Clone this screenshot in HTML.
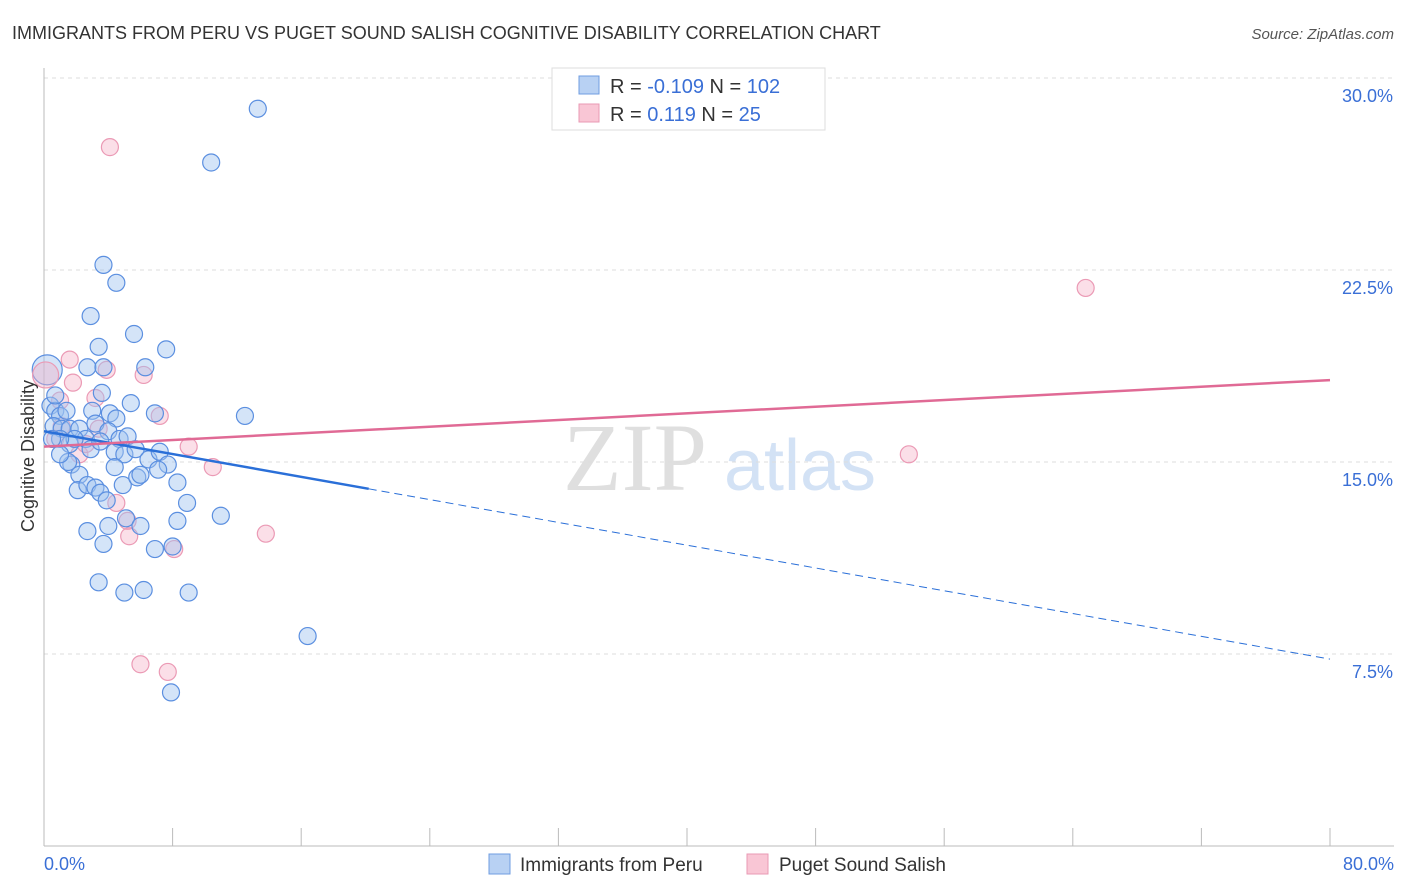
<!DOCTYPE html>
<html><head><meta charset="utf-8"><style>
body{margin:0;background:#fff;font-family:"Liberation Sans",sans-serif}
svg{display:block}
</style></head><body>
<svg id="chart" width="1406" height="892" xmlns="http://www.w3.org/2000/svg" font-family="Liberation Sans, sans-serif">
<text x="12" y="39" font-size="18" fill="#333">IMMIGRANTS FROM PERU VS PUGET SOUND SALISH COGNITIVE DISABILITY CORRELATION CHART</text>
<text x="1394" y="39" font-size="15" fill="#555" font-style="italic" text-anchor="end">Source: ZipAtlas.com</text>
<g>
<text x="635" y="490" font-size="96" fill="#d8d8d8" text-anchor="middle" font-family="Liberation Serif, serif" opacity="0.8">ZIP</text>
<text x="800" y="490" font-size="72" fill="#c9dbf3" text-anchor="middle" opacity="0.8">atlas</text>
</g>
<g id="grid"></g>
<g id="axes"></g>
<g id="marks"></g>
<text transform="translate(34,456) rotate(-90)" font-size="18" fill="#333" text-anchor="middle">Cognitive Disability</text>
<g>
<rect x="552" y="68" width="273" height="62" fill="#fff" stroke="#ddd"/>
<rect x="579" y="76" width="20" height="18" fill="#b8d1f3" stroke="#6f9de0"/>
<text x="610" y="93" font-size="20" fill="#333">R = <tspan fill="#3a6fd6">-0.109</tspan>   N = <tspan fill="#3a6fd6">102</tspan></text>
<rect x="579" y="104" width="20" height="18" fill="#f9c6d5" stroke="#e99ab4"/>
<text x="610" y="121" font-size="20" fill="#333">R =    <tspan fill="#3a6fd6">0.119</tspan>   N =   <tspan fill="#3a6fd6">25</tspan></text>
</g>
<g>
<rect x="489" y="854" width="21" height="20" fill="#b8d1f3" stroke="#6f9de0"/>
<text x="520" y="871" font-size="19" fill="#333">Immigrants from Peru</text>
<rect x="747" y="854" width="21" height="20" fill="#f9c6d5" stroke="#e99ab4"/>
<text x="779" y="871" font-size="19" fill="#333">Puget Sound Salish</text>
</g>
</svg>
<script>
const blueX=[13.3,10.4,3.7,4.5,2.9,5.6,7.6,3.4,2.7,6.3,3.7,3.6,5.4,0.4,0.7,1.0,1.4,3.0,4.1,4.5,6.9,12.5,0.6,1.1,1.6,2.2,2.6,3.2,4.0,4.7,5.2,1.6,1.9,1.0,0.5,2.9,3.5,4.4,5.0,5.7,6.5,7.2,7.7,7.1,1.7,1.5,2.2,2.1,2.7,3.2,3.5,3.9,4.9,5.8,8.3,8.9,11.0,5.1,6.0,4.0,2.7,8.3,3.7,6.9,8.0,3.4,5.0,6.2,9.0,16.4,7.9,1.0,4.4,6.0,0.7];
const blueY=[28.8,26.7,22.7,22.0,20.7,20.0,19.4,19.5,18.7,18.7,18.7,17.7,17.3,17.2,17.0,16.8,17.0,17.0,16.9,16.7,16.9,16.8,16.4,16.3,16.3,16.3,15.9,16.5,16.2,15.9,16.0,15.7,15.9,15.9,15.9,15.5,15.8,15.4,15.3,15.5,15.1,15.4,14.9,14.7,14.9,15.0,14.5,13.9,14.1,14.0,13.8,13.5,14.1,14.4,14.2,13.4,12.9,12.8,12.5,12.5,12.3,12.7,11.8,11.6,11.7,10.3,9.9,10.0,9.9,8.2,6.0,15.3,14.8,14.5,17.6];
const pinkX=[4.1,64.8,1.6,1.8,3.9,6.2,3.2,7.2,9.0,53.8,10.5,4.5,5.2,5.3,13.8,8.1,6.0,7.7,2.2,1.1,3.4,1.0,0.7,2.6];
const pinkY=[27.3,21.8,19.0,18.1,18.6,18.4,17.5,16.8,15.6,15.3,14.8,13.4,12.7,12.1,12.2,11.6,7.1,6.8,15.3,16.4,16.3,17.4,15.9,15.7];
const bigBlue=[0.2,18.6];
const bigPink=[0.1,18.4];
const blueTrend=[16.2,7.3];
const blueSolidEnd=20.2;
const pinkTrend=[15.6,18.2];
const yTicks=[7.5,15.0,22.5,30.0];
const yTickLabels=["7.5%","15.0%","22.5%","30.0%"];
const xTicks=[0,8,16,24,32,40,48,56,64,72,80];

const NS="http://www.w3.org/2000/svg";
const X=v=>44+v*16.075, Y=v=>846-v*25.6;
function mk(tag,attrs,parent){const e=document.createElementNS(NS,tag);for(const k in attrs)e.setAttribute(k,attrs[k]);parent.appendChild(e);return e;}
const grid=document.getElementById('grid'),axes=document.getElementById('axes'),marks=document.getElementById('marks');
yTicks.forEach((t,i)=>{
 const l=mk('line',{x1:44,x2:1394,y1:Y(t),y2:Y(t),stroke:'#ddd','stroke-dasharray':'4,4'},grid);
 
 
 const tx=mk('text',{x:1393,y:Y(t)+24,'font-size':18,fill:'#3a6fd6','text-anchor':'end'},axes);
 tx.textContent=yTickLabels[i];
 
 
});
mk('line',{x1:44,x2:44,y1:68,y2:846,stroke:'#bbb'},axes);
mk('line',{x1:44,x2:1394,y1:846,y2:846,stroke:'#bbb'},axes);
xTicks.forEach(t=>{
 const l=mk('line',{x1:X(t),x2:X(t),y1:828,y2:846,stroke:'#bbb'},axes);
 
 
});
const x0=mk('text',{x:44,y:870,'font-size':18,fill:'#3a6fd6'},axes);x0.textContent="0.0%";


const x1=mk('text',{x:1394,y:870,'font-size':18,fill:'#3a6fd6','text-anchor':'end'},axes);x1.textContent="80.0%";



function dot(x,y,r,blue){
 const c=mk('circle',{cx:X(x),cy:Y(y),r:r,fill:blue?'rgba(160,196,240,0.45)':'rgba(245,175,198,0.4)',stroke:blue?'#5b8fe0':'#eb9ab5','stroke-width':1.2},marks);
 
 
}
dot(bigBlue[0],bigBlue[1],15,true);
dot(bigPink[0],bigPink[1],13,false);
pinkX.forEach((x,i)=>dot(x,pinkY[i],8.5,false));
blueX.forEach((x,i)=>dot(x,blueY[i],8.5,true));
const by=x=>blueTrend[0]+(blueTrend[1]-blueTrend[0])*x/80;
let l=mk('line',{x1:X(0),y1:Y(by(0)),x2:X(blueSolidEnd),y2:Y(by(blueSolidEnd)),stroke:'#2a6fd8','stroke-width':2.5},marks);


l=mk('line',{x1:X(blueSolidEnd),y1:Y(by(blueSolidEnd)),x2:X(80),y2:Y(by(80)),stroke:'#2a6fd8','stroke-width':1,'stroke-dasharray':'8,5'},marks);


l=mk('line',{x1:X(0),y1:Y(pinkTrend[0]),x2:X(80),y2:Y(pinkTrend[1]),stroke:'#e06a95','stroke-width':2.5},marks);


</script>
</body></html>
